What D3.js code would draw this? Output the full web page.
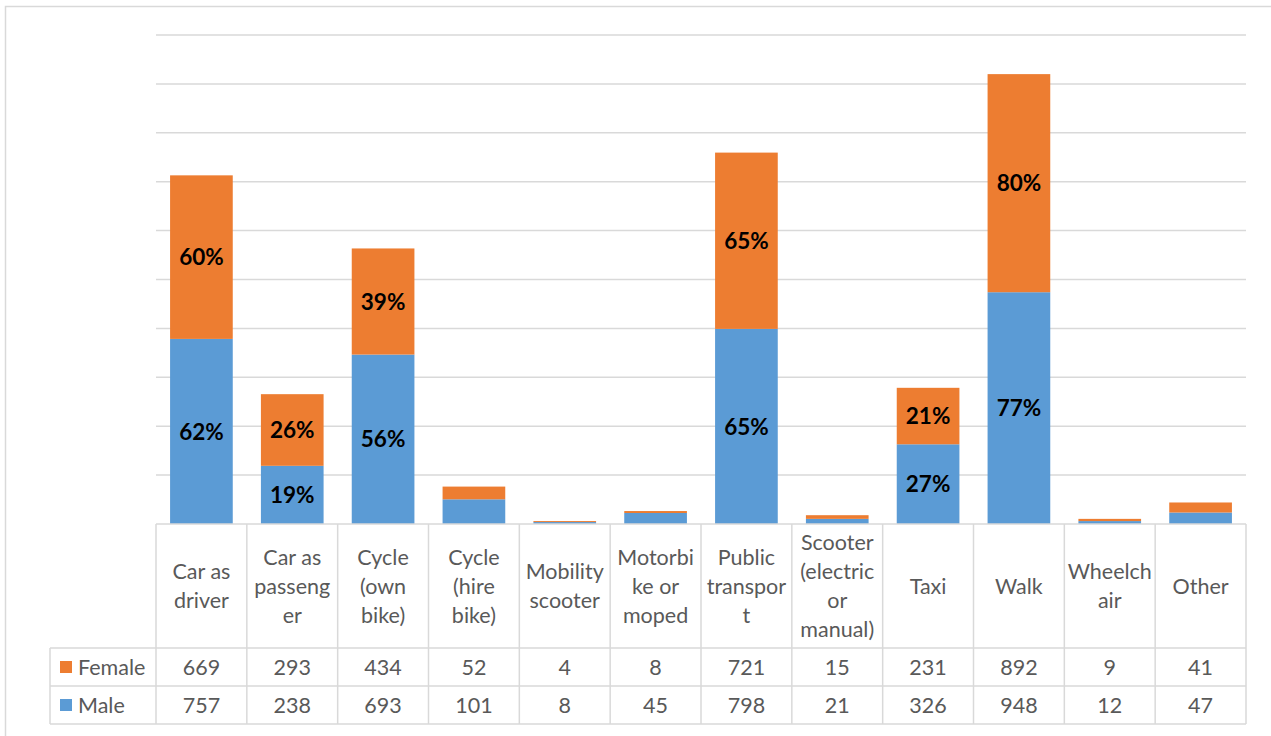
<!DOCTYPE html>
<html>
<head>
<meta charset="utf-8">
<script src="https://cdn.jsdelivr.net/npm/d3@7"></script>
<style>
  body { margin: 0; background: #fff; }
  svg { display: block; }
</style>
</head>
<body>
<svg width="1271" height="736"></svg>
<script>
// data
const categories = ['Car as driver', 'Car as passenger', 'Cycle (own bike)', 'Cycle (hire bike)',
  'Mobility scooter', 'Motorbike or moped', 'Public transport', 'Scooter (electric or manual)',
  'Taxi', 'Walk', 'Wheelchair', 'Other'];
// how Excel wrapped each category in its table cell
const categoryLines = [['Car as', 'driver'], ['Car as', 'passeng', 'er'], ['Cycle', '(own', 'bike)'],
  ['Cycle', '(hire', 'bike)'], ['Mobility', 'scooter'], ['Motorbi', 'ke or', 'moped'],
  ['Public', 'transpor', 't'], ['Scooter', '(electric', 'or', 'manual)'], ['Taxi'], ['Walk'],
  ['Wheelch', 'air'], ['Other']];
const female = [669, 293, 434, 52, 4, 8, 721, 15, 231, 892, 9, 41];
const male = [757, 238, 693, 101, 8, 45, 798, 21, 326, 948, 12, 47];
const femaleLabels = ['60%', '26%', '39%', null, null, null, '65%', null, '21%', '80%', null, null];
const maleLabels = ['62%', '19%', '56%', null, null, null, '65%', null, '27%', '77%', null, null];
const yTicks = d3.range(0, 2001, 200);

const blue = '#5B9BD5', orange = '#ED7D31';
const gridColor = '#d9d9d9', textColor = '#595959';
const font = 'Lato, "Open Sans", sans-serif';
const tableSize = 21.5, labelSize = 22.5;

const svg = d3.select('svg');

// chart frame
svg.append('rect')
    .attr('x', 5.5).attr('y', 6.5)
    .attr('width', 1300).attr('height', 800)
    .attr('fill', 'none')
    .attr('stroke', gridColor)
    .attr('stroke-width', 1.5);

const plotLeft = 156, plotRight = 1246, plotTop = 35, base = 524;

const x = d3.scaleBand()
    .domain(categories)
    .range([plotLeft, plotRight])
    .paddingInner(0.31)
    .paddingOuter(0.155);
const y = d3.scaleLinear().domain([0, 2000]).range([base, plotTop]);

// gridlines
svg.append('g').selectAll('line')
    .data(yTicks.slice(1))
    .join('line')
    .attr('x1', plotLeft).attr('x2', plotRight)
    .attr('y1', d => y(d)).attr('y2', d => y(d))
    .attr('stroke', gridColor)
    .attr('stroke-width', 1.5);

// stacked bars
const rows = categories.map((c, i) => ({ cat: c, Male: male[i], Female: female[i] }));
const stack = d3.stack().keys(['Male', 'Female'])(rows);
const colors = { Male: blue, Female: orange };
const labels = { Male: maleLabels, Female: femaleLabels };

svg.append('g').selectAll('g')
    .data(stack)
    .join('g')
    .attr('fill', s => colors[s.key])
    .selectAll('rect')
    .data(s => s)
    .join('rect')
    .attr('x', d => x(d.data.cat))
    .attr('width', x.bandwidth())
    .attr('y', d => y(d[1]))
    .attr('height', d => y(d[0]) - y(d[1]));

// percentage labels
stack.forEach(s => {
    svg.append('g').selectAll('text')
        .data(s.map((d, i) => ({ d, lab: labels[s.key][i] })).filter(o => o.lab))
        .join('text')
        .attr('x', o => x(o.d.data.cat) + x.bandwidth() / 2)
        .attr('y', o => (y(o.d[0]) + y(o.d[1])) / 2)
        .attr('dy', '0.36em')
        .attr('text-anchor', 'middle')
        .attr('font-family', font)
        .attr('font-weight', 'bold')
        .attr('font-size', labelSize)
        .attr('fill', '#000')
        .text(o => o.lab);
});

// data table
const rowCat = [base, 648], rowF = [648, 686], rowM = [686, 724];
const legendLeft = 50;
const table = svg.append('g')
    .attr('stroke', gridColor)
    .attr('stroke-width', 1.5);
// horizontal lines
table.append('line').attr('x1', plotLeft).attr('x2', plotRight).attr('y1', base).attr('y2', base);
[rowF[0], rowM[0], rowM[1]].forEach(yy => {
    table.append('line').attr('x1', legendLeft).attr('x2', plotRight).attr('y1', yy).attr('y2', yy);
});
// vertical lines
const edges = categories.map(c => x(c) - x.step() * x.paddingInner() / 2).concat([plotRight]);
edges.forEach(xx => {
    table.append('line').attr('x1', xx).attr('x2', xx).attr('y1', base).attr('y2', rowM[1]);
});
table.append('line').attr('x1', legendLeft).attr('x2', legendLeft).attr('y1', rowF[0]).attr('y2', rowM[1]);

const cx = c => x(c) + x.bandwidth() / 2;
const lineH = 29;

// category labels
const catG = svg.append('g')
    .attr('font-family', font)
    .attr('font-size', tableSize)
    .attr('fill', textColor)
    .attr('text-anchor', 'middle');
categories.forEach((c, i) => {
    const lines = categoryLines[i];
    const mid = (rowCat[0] + rowCat[1]) / 2;
    const t = catG.append('text').attr('x', cx(c));
    lines.forEach((ln, k) => {
        t.append('tspan')
            .attr('x', cx(c))
            .attr('y', mid + (k - (lines.length - 1) / 2) * lineH)
            .attr('dy', '0.36em')
            .text(ln);
    });
});

// value rows
[[female, rowF], [male, rowM]].forEach(([vals, r]) => {
    svg.append('g').selectAll('text')
        .data(vals)
        .join('text')
        .attr('x', (d, i) => cx(categories[i]))
        .attr('y', (r[0] + r[1]) / 2)
        .attr('dy', '0.36em')
        .attr('text-anchor', 'middle')
        .attr('font-family', font)
        .attr('font-size', tableSize)
        .attr('fill', textColor)
        .text(d => d);
});

// legend keys in the table
[['Female', orange, rowF], ['Male', blue, rowM]].forEach(([name, col, r]) => {
    const mid = (r[0] + r[1]) / 2;
    svg.append('rect')
        .attr('x', 60).attr('y', mid - 6)
        .attr('width', 12).attr('height', 12)
        .attr('fill', col);
    svg.append('text')
        .attr('x', 78).attr('y', mid)
        .attr('dy', '0.36em')
        .attr('font-family', font)
        .attr('font-size', tableSize)
        .attr('fill', textColor)
        .text(name);
});
</script>
</body>
</html>
